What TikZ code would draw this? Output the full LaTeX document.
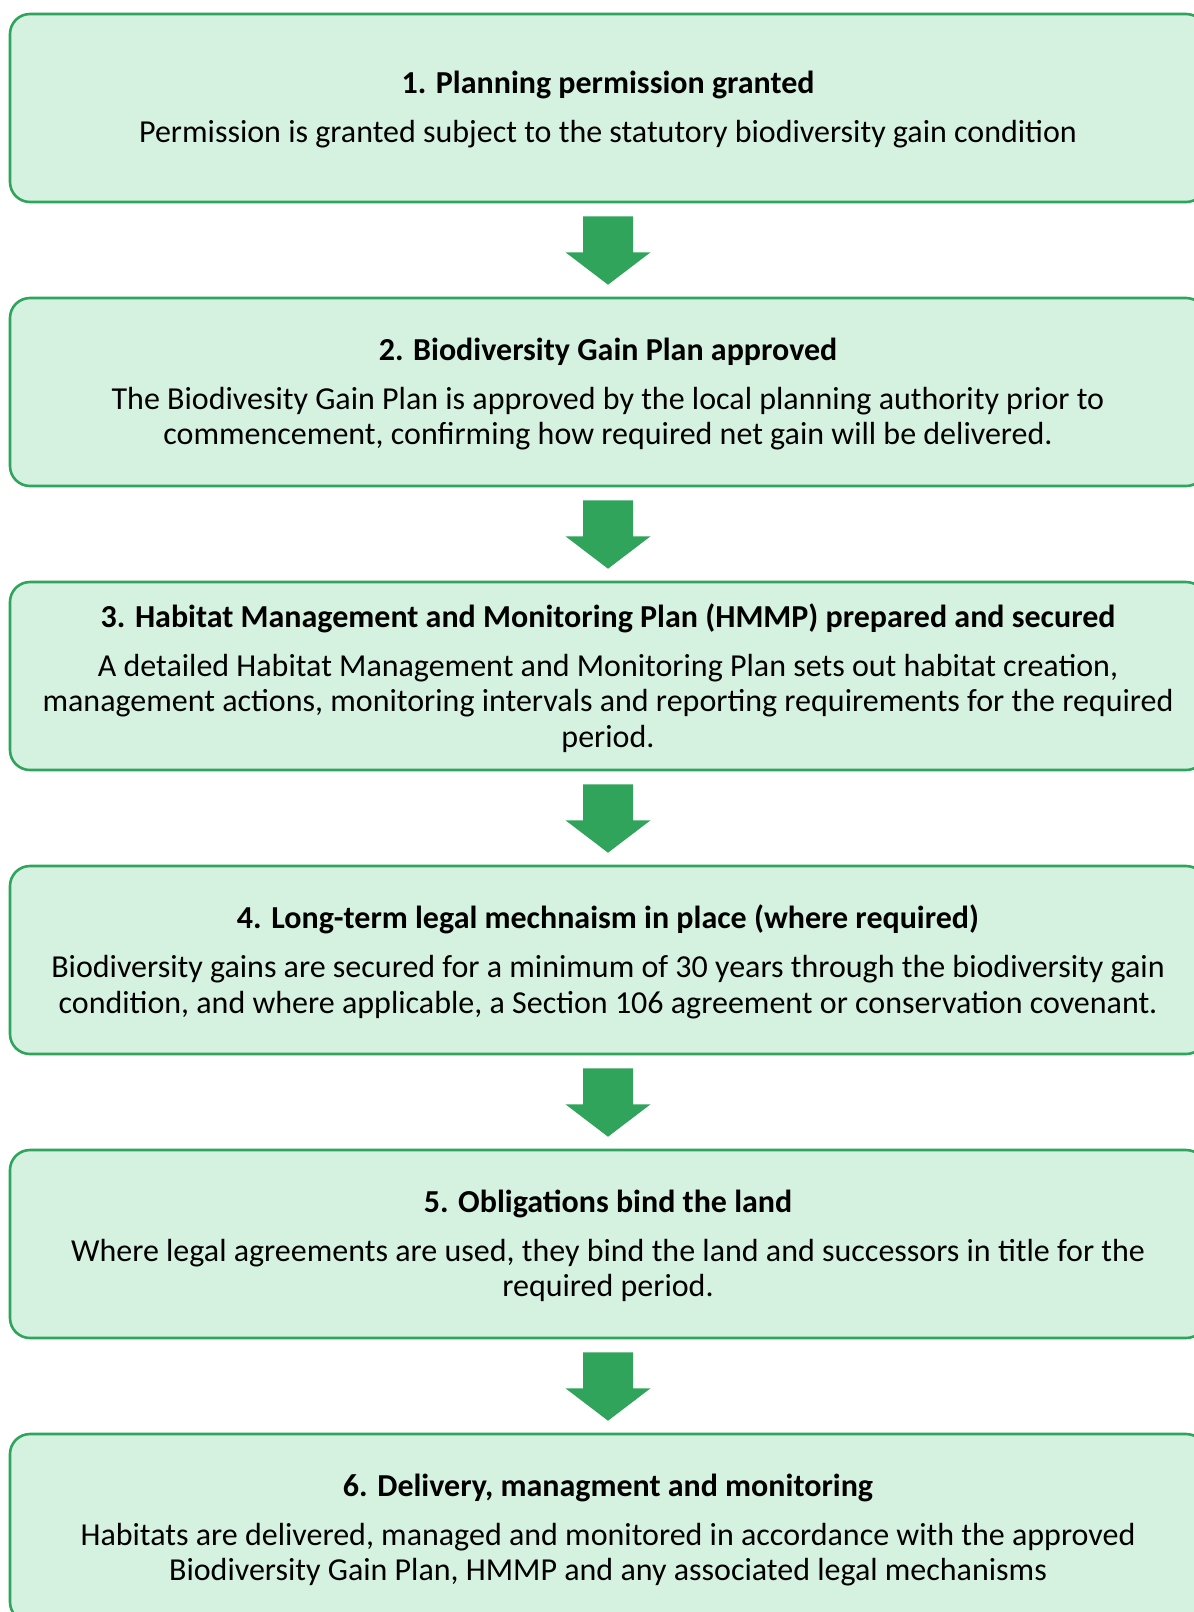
\documentclass[tikz,border=0pt]{standalone}
\usepackage{fontspec}
\setmainfont{Carlito}
\usetikzlibrary{calc}
\definecolor{boxfill}{HTML}{D5F2E1}
\definecolor{boxdraw}{HTML}{2FA55C}
\definecolor{arrowc}{HTML}{31A45C}
\tikzset{
  stagebox/.style={draw=boxdraw, fill=boxfill, line width=2.6pt, rounded corners=20pt,
    minimum width=1196pt, minimum height=188pt, inner sep=0pt},
  stagetext/.style={inner sep=0pt, align=center, font=\fontsize{32}{35.5}\selectfont},
  blockarrow/.style={fill=arrowc, draw=none},
}
\newcommand{\ttl}[1]{\textbf{#1}\\[13.5pt]}
\begin{document}
\begin{tikzpicture}[x=1pt,y=-1pt]
\clip (0,0) rectangle (1194,1612);
\fill[white] (0,0) rectangle (1194,1612);
\node[stagebox] (b1) at (608,108) {};
\node[stagebox] (b2) at (608,392) {};
\node[stagebox] (b3) at (608,676) {};
\node[stagebox] (b4) at (608,960) {};
\node[stagebox] (b5) at (608,1244) {};
\node[stagebox] (b6) at (608,1528) {};
\node[stagetext] (t1) at ([yshift=-2pt]b1.center) {\ttl{1. Planning permission granted}Permission is granted subject to the statutory biodiversity gain condition};
\node[stagetext] (t2) at ([yshift=-2pt]b2.center) {\ttl{2. Biodiversity Gain Plan approved}The Biodivesity Gain Plan is approved by the local planning authority prior to\\commencement, confirming how required net gain will be delivered.};
\node[stagetext] (t3) at ([yshift=-2pt]b3.center) {\ttl{3. Habitat Management and Monitoring Plan (HMMP) prepared and secured}A detailed Habitat Management and Monitoring Plan sets out habitat creation,\\management actions, monitoring intervals and reporting requirements for the required\\period.};
\node[stagetext] (t4) at ([yshift=-2pt]b4.center) {\ttl{4. Long-term legal mechnaism in place (where required)}Biodiversity gains are secured for a minimum of 30 years through the biodiversity gain\\condition, and where applicable, a Section 106 agreement or conservation covenant.};
\node[stagetext] (t5) at ([yshift=-2pt]b5.center) {\ttl{5. Obligations bind the land}Where legal agreements are used, they bind the land and successors in title for the\\required period.};
\node[stagetext] (t6) at ([yshift=-2pt]b6.center) {\ttl{6. Delivery, managment and monitoring}Habitats are delivered, managed and monitored in accordance with the approved\\Biodiversity Gain Plan, HMMP and any associated legal mechanisms};
\foreach \a/\b in {b1/b2,b2/b3,b3/b4,b4/b5,b5/b6}{
  \fill[blockarrow] ($(\a.south)+(-25,13)$) -- ($(\a.south)+(25,13)$) -- ($(\a.south)+(25,49)$)
    -- ($(\a.south)+(42.5,49)$) -- ($(\b.north)+(0,-12)$) -- ($(\a.south)+(-42.5,49)$)
    -- ($(\a.south)+(-25,49)$) -- cycle;
}
\end{tikzpicture}
\end{document}
